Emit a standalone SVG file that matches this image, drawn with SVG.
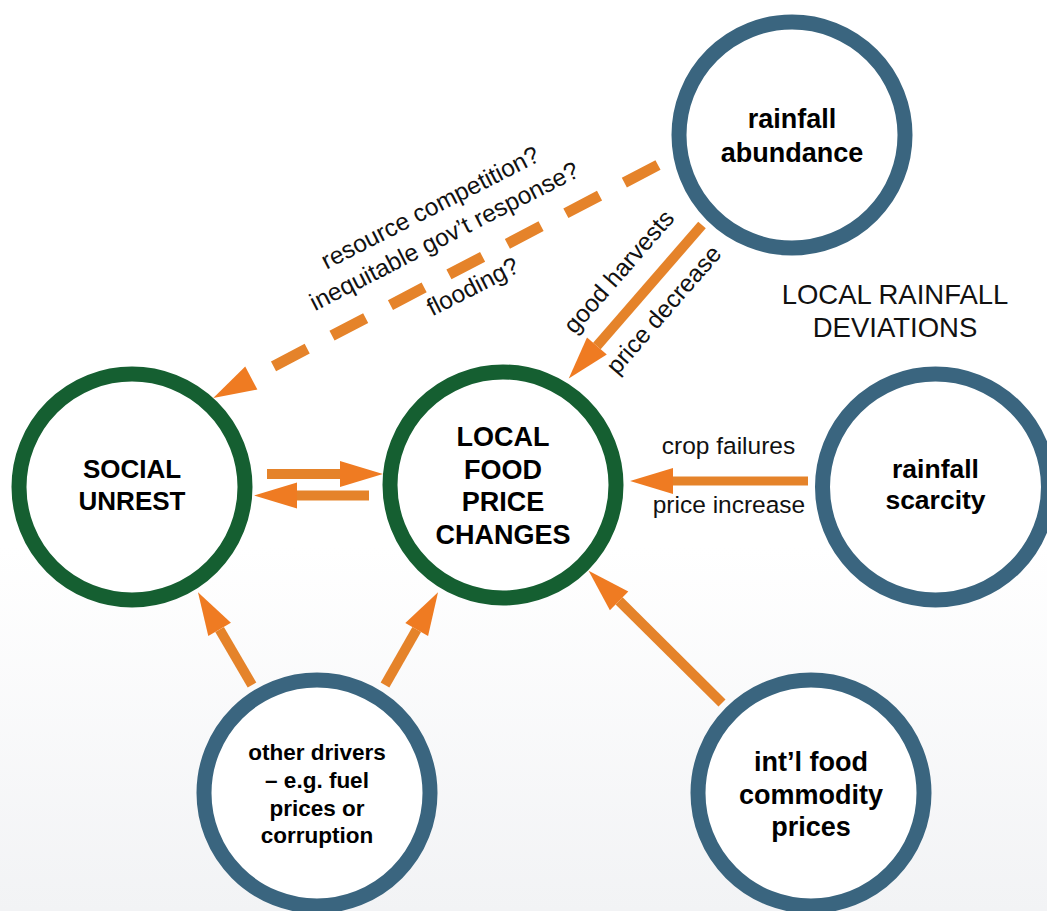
<svg xmlns="http://www.w3.org/2000/svg" width="1047" height="911" viewBox="0 0 1047 911">
  <defs>
    <linearGradient id="bg" x1="0" y1="0" x2="0" y2="1">
      <stop offset="0" stop-color="#ffffff"/>
      <stop offset="0.6" stop-color="#ffffff"/>
      <stop offset="1" stop-color="#f2f3f5"/>
    </linearGradient>
    <marker id="head" markerUnits="userSpaceOnUse" markerWidth="44" markerHeight="28" viewBox="0 -13 42 26" refX="0" refY="0" orient="auto" overflow="visible">
      <path d="M0,-12.5 L41,0 L0,12.5 Z" fill="#ef7b22"/>
    </marker>
    <style>
      .ring { fill: #ffffff; stroke-width: 15; }
      .green { stroke: #155f31; }
      .blue { stroke: #3a657f; }
      .arr { stroke: #e5832a; stroke-width: 10; fill: none; stroke-linecap: butt; marker-end: url(#head); }
      .dash { stroke-width: 11; stroke-dasharray: 38 28; }
      .bold { font-family: "Liberation Sans", Arial, sans-serif; font-weight: bold; fill: #000; text-anchor: middle; }
      .lbl { font-family: "Liberation Sans", Arial, sans-serif; font-size: 24.5px; fill: #111; text-anchor: middle; }
    </style>
  </defs>

  <rect x="0" y="0" width="1047" height="911" fill="url(#bg)"/>

  <g id="connectors">
    <line class="arr" x1="267" y1="474" x2="340" y2="474"/>
    <line class="arr" x1="369" y1="495.5" x2="297" y2="495.5"/>
    <line class="arr" x1="808" y1="481" x2="673" y2="481" style="stroke-width:9"/>
    <line class="arr" x1="702" y1="225" x2="596.9" y2="346"/>
    <line class="arr dash" x1="658" y1="165" x2="251.3" y2="378"/>
    <line class="arr" x1="252" y1="685" x2="219.6" y2="629.4"/>
    <line class="arr" x1="385" y1="685" x2="416.7" y2="629.6"/>
    <line class="arr" x1="722" y1="703" x2="619.1" y2="600.9"/>

    <text class="lbl" transform="translate(434,215) rotate(-27)">resource competition?</text>
    <text class="lbl" transform="translate(448,243.5) rotate(-27)">inequitable gov’t response?</text>
    <text class="lbl" transform="translate(476.5,294) rotate(-27)">flooding?</text>
    <text class="lbl" transform="translate(625,277) rotate(-49)">good harvests</text>
    <text class="lbl" transform="translate(670,315) rotate(-49)">price decrease</text>
    <text class="lbl" x="728.5" y="454">crop failures</text>
    <text class="lbl" x="729" y="513">price increase</text>
  </g>

  <text class="lbl" x="895" y="304" style="font-size:27.5px">LOCAL RAINFALL</text>
  <text class="lbl" x="895" y="337" style="font-size:27.5px">DEVIATIONS</text>

  <g id="rainfall-abundance">
    <circle class="ring blue" cx="792" cy="135" r="113"/>
    <text class="bold" x="792" y="128" font-size="27">rainfall</text>
    <text class="bold" x="792" y="162" font-size="27">abundance</text>
  </g>

  <g id="social-unrest">
    <circle class="ring green" cx="132" cy="487" r="113"/>
    <text class="bold" x="132" y="478" font-size="26">SOCIAL</text>
    <text class="bold" x="132" y="510" font-size="26">UNREST</text>
  </g>

  <g id="local-food-price-changes">
    <circle class="ring green" cx="503" cy="485" r="113"/>
    <text class="bold" x="503" y="446" font-size="27">LOCAL</text>
    <text class="bold" x="503" y="478.5" font-size="27">FOOD</text>
    <text class="bold" x="503" y="511" font-size="27">PRICE</text>
    <text class="bold" x="503" y="543.5" font-size="27">CHANGES</text>
  </g>

  <g id="rainfall-scarcity">
    <circle class="ring blue" cx="935.5" cy="487" r="113"/>
    <text class="bold" x="935.5" y="478" font-size="26.5">rainfall</text>
    <text class="bold" x="935.5" y="509" font-size="26.5">scarcity</text>
  </g>

  <g id="other-drivers">
    <circle class="ring blue" cx="317" cy="793" r="113"/>
    <text class="bold" x="317" y="760" font-size="22.5">other drivers</text>
    <text class="bold" x="317" y="788" font-size="22.5">– e.g. fuel</text>
    <text class="bold" x="317" y="816" font-size="22.5">prices or</text>
    <text class="bold" x="317" y="843" font-size="22.5">corruption</text>
  </g>

  <g id="intl-food-commodity-prices">
    <circle class="ring blue" cx="811" cy="793" r="113"/>
    <text class="bold" x="811" y="771" font-size="27">int’l food</text>
    <text class="bold" x="811" y="804" font-size="27">commodity</text>
    <text class="bold" x="811" y="836" font-size="27">prices</text>
  </g>
</svg>
